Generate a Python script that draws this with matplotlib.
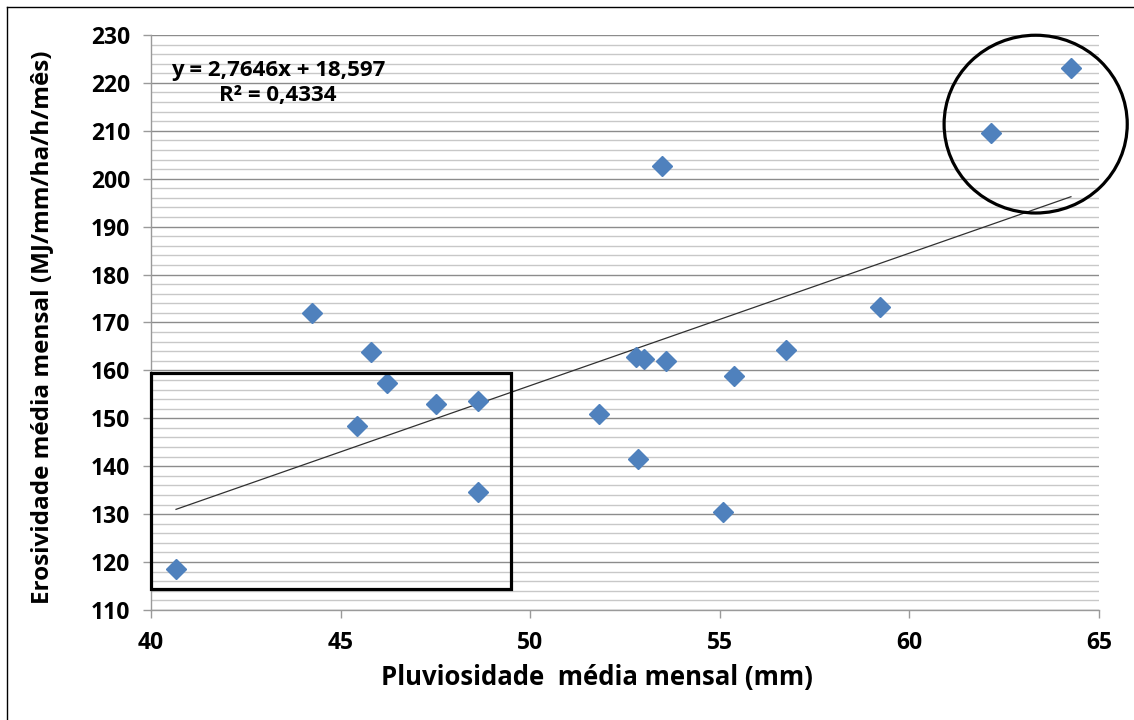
import matplotlib
matplotlib.use("Agg")
import matplotlib.pyplot as plt
import numpy as np
from matplotlib.patches import Rectangle, Ellipse
from matplotlib.ticker import MultipleLocator

# Data
pluviosidade = [40.66, 44.25, 45.80, 46.22, 45.43, 47.52, 48.62, 48.62, 51.81, 52.84,
                52.79, 53.00, 53.58, 53.48, 55.08, 55.37, 56.75, 59.22, 62.15, 64.26]
erosividade = [118.6, 172.0, 163.8, 157.4, 148.4, 153.0, 153.6, 134.6, 150.9, 141.5,
               162.9, 162.4, 161.9, 202.7, 130.5, 158.8, 164.3, 173.2, 209.5, 223.1]
slope, intercept = 2.7646, 18.597
eq_text = "y = 2,7646x + 18,597\nR² = 0,4334"
x_ticks = [40, 45, 50, 55, 60, 65]
y_ticks = list(range(110, 231, 10))

plt.rcParams['font.family'] = ['Open Sans', 'DejaVu Sans']

fig = plt.figure(figsize=(11.34, 7.2), dpi=100)
ax = fig.add_axes([151/1134, 1-610/720, (1099-151)/1134, (610-35)/720])

ax.set_xlim(40, 65)
ax.set_ylim(110, 230)
ax.yaxis.set_minor_locator(MultipleLocator(2))
ax.set_xticks(x_ticks)
ax.set_yticks(y_ticks)

ax.grid(axis='y', which='major', color='#8c8c8c', lw=1.0, zorder=0)
ax.grid(axis='y', which='minor', color='#c8c8c8', lw=1.0, zorder=0)
ax.set_axisbelow(True)

for s in ['top', 'right']:
    ax.spines[s].set_visible(False)
for s in ['left', 'bottom']:
    ax.spines[s].set_color('#9a9a9a')
    ax.spines[s].set_linewidth(1.0)

ax.tick_params(axis='both', which='major', direction='out', length=6, width=1,
               color='#9a9a9a', labelsize=16.5, pad=9)
ax.tick_params(axis='y', which='minor', length=0)
for lab in ax.get_xticklabels() + ax.get_yticklabels():
    lab.set_fontweight('bold')

# Scatter
ax.plot(pluviosidade, erosividade, linestyle='none', marker='D', ms=10.5,
        color='#4F81BD', zorder=3, clip_on=False)

# Trendline
xs = np.array([min(pluviosidade), max(pluviosidade)])
ax.plot(xs, slope * xs + intercept, color='#303030', lw=0.9, zorder=2)

ax.text(43.35, 219.9, eq_text, ha='center', va='center', fontsize=16,
        fontweight='bold', linespacing=1.25)

# Highlight shapes
ax.add_patch(Rectangle((40, 114.4), 9.49, 45.1, fill=False, ec='black', lw=2.3,
                       clip_on=False, zorder=4))
ax.add_patch(Ellipse((63.33, 211.4), 4.83, 37.1, fill=False, ec='black', lw=2.3,
                     clip_on=False, zorder=4))

ax.set_xlabel('Pluviosidade  média mensal (mm)', fontsize=18.5, fontweight='bold')
ax.set_ylabel('Erosividade média mensal (MJ/mm/ha/h/mês)', fontsize=17.5, fontweight='bold')
ax.xaxis.set_label_coords((597 - 151) / 948, -(664 - 610) / 575)
ax.yaxis.set_label_coords((54 - 151) / 948, (610 - 327) / 575)

# Figure border (left & top)
fig.add_artist(plt.Line2D([7/1134, 7/1134], [0, 1-7/720], color='black', lw=1,
                          transform=fig.transFigure))
fig.add_artist(plt.Line2D([7/1134, 1], [1-7/720, 1-7/720], color='black', lw=1,
                          transform=fig.transFigure))

fig.savefig('out.png', dpi=100)
